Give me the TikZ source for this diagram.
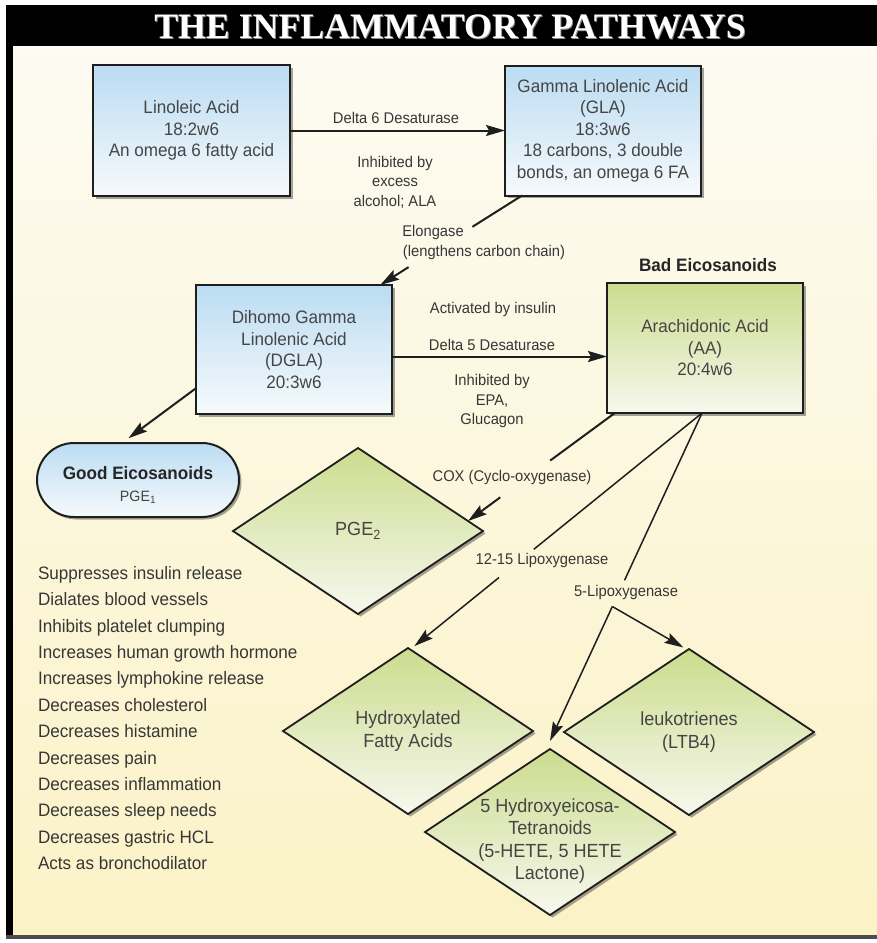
\documentclass[tikz,border=0pt]{standalone}
\usepackage{fontspec}
\setmainfont[FakeStretch=0.95]{Liberation Sans}
\newfontfamily\titlefont{Liberation Serif}
\usetikzlibrary{shapes.geometric,shadows,arrows.meta,calc}
\definecolor{bgtop}{HTML}{FDFBF2}
\definecolor{bgbot}{HTML}{FBF2C6}
\definecolor{bluetop}{HTML}{BBDCF2}
\definecolor{bluebot}{HTML}{F6FAFC}
\definecolor{greentop}{HTML}{CCDC8E}
\definecolor{greenbot}{HTML}{F7F8EE}
\definecolor{txt}{HTML}{363636}
\definecolor{boxtxt}{HTML}{454545}
\definecolor{edge}{HTML}{1E1E1E}
\begin{document}
\begin{tikzpicture}[x=1pt,y=-1pt,
  every node/.style={inner sep=0pt,outer sep=0pt},
  shadowed/.style={drop shadow={shadow xshift=2.5pt,shadow yshift=-2.5pt,opacity=0.35,fill=black}},
  bluebox/.style={rectangle,draw=edge,line width=2pt,top color=bluetop,bottom color=bluebot,shadowed,align=center,text=boxtxt,font=\fontsize{18}{21.5}\selectfont},
  greenbox/.style={rectangle,draw=edge,line width=2pt,top color=greentop,bottom color=greenbot,shadowed,align=center,text=boxtxt,font=\fontsize{18}{21.5}\selectfont},
  gdiam/.style={diamond,aspect=1.5,minimum width=250pt,minimum height=166pt,draw=edge,line width=1.8pt,top color=greentop,bottom color=greenbot,shadowed,align=center,text=boxtxt,font=\fontsize{19}{23.5}\selectfont},
  lbl/.style={text=txt,align=center,font=\fontsize{15.5}{19.5}\selectfont},
  listtxt/.style={text=txt,font=\fontsize{18}{22}\selectfont},
  headtxt/.style={text=black!85,font=\bfseries\fontsize{18}{22}\selectfont},
  tip/.style={-{Stealth[length=19pt,width=11pt,inset=3pt]}},
  arr/.style={draw=edge,line width=2pt,tip},
  thinarr/.style={draw=edge,line width=1.5pt,tip},
  seg/.style={draw=edge,line width=2pt},
  thinseg/.style={draw=edge,line width=1.5pt}
]
\useasboundingbox (0,0) rectangle (877,943);
\fill[white] (0,0) rectangle (877,943);
% frame
\shade[top color=bgtop,bottom color=bgbot] (13,47) rectangle (877,935);
\fill[black] (6,5) rectangle (877,46);
\fill[black] (6,5) rectangle (13,939);
\fill[black!70] (6,935) rectangle (877,939);
\node[text=black!45] (titles) at (451,28) {\titlefont\bfseries\fontsize{35.8}{40}\selectfont THE INFLAMMATORY PATHWAYS};
\node[text=white] (title) at (450,27) {\titlefont\bfseries\fontsize{35.8}{40}\selectfont THE INFLAMMATORY PATHWAYS};

% boxes
\node[bluebox,minimum width=197pt,minimum height=131pt] (lin) at (191.5,130.5)
  {Linoleic Acid\\18:2w6\\An omega 6 fatty acid};
\node[bluebox,minimum width=196pt,minimum height=130pt] (gla) at (603,130.5)
  {Gamma Linolenic Acid\\(GLA)\\18:3w6\\18 carbons, 3 double\\bonds, an omega 6 FA};
\node[bluebox,minimum width=196pt,minimum height=129pt] (dgla) at (294,349.5)
  {Dihomo Gamma\\Linolenic Acid\\(DGLA)\\20:3w6};
\node[greenbox,minimum width=196pt,minimum height=130pt] (aa) at (705,348)
  {Arachidonic Acid\\(AA)\\20:4w6};
\node[rectangle,rounded corners=37pt,draw=edge,line width=2pt,top color=bluetop,bottom color=bluebot,shadowed,
  minimum width=202pt,minimum height=74pt] (good) at (138,480) {};
\node[headtxt] (goodt) at (138,473) {Good Eicosanoids};
\node[text=boxtxt,font=\fontsize{15}{18}\selectfont] (pge1) at (138,497) {PGE\textsubscript{1}};
\node[headtxt] (bad) at (708,265) {Bad Eicosanoids};

% diamonds
\node[gdiam] (pge) at (358,531) {PGE\textsubscript{2}};
\node[gdiam] (hyd) at (408,731) {Hydroxylated\\Fatty Acids};
\node[gdiam] (leuk) at (689,732) {leukotrienes\\(LTB4)};
\node[gdiam] (hete) at (550,832) {};
\node[text=boxtxt,align=center,font=\fontsize{19}{22.5}\selectfont] (hetet) at (550,841)
  {5 Hydroxyeicosa-\\Tetranoids\\(5-HETE, 5 HETE\\Lactone)};

% labels
\node[lbl] (d6) at (396,118) {Delta 6 Desaturase};
\node[lbl] (inh1) at (395,182) {Inhibited by\\excess\\alcohol; ALA};
\node[lbl] (elo1) at (433,232) {Elongase};
\node[lbl] (elo2) at (484,252) {(lengthens carbon chain)};
\node[lbl] (act) at (493,309) {Activated by insulin};
\node[lbl] (d5) at (492,345) {Delta 5 Desaturase};
\node[lbl] (inh2) at (492,401) {Inhibited by\\EPA,\\Glucagon};
\node[lbl] (cox) at (512,477) {COX (Cyclo-oxygenase)};
\node[lbl] (lox12) at (542,560) {12-15 Lipoxygenase};
\node[lbl] (lox5) at (626,592) {5-Lipoxygenase};

% list
\foreach \t [count=\i from 0] in {Suppresses insulin release,Dialates blood vessels,Inhibits platelet clumping,Increases human growth hormone,Increases lymphokine release,Decreases cholesterol,Decreases histamine,Decreases pain,Decreases inflammation,Decreases sleep needs,Decreases gastric HCL,Acts as bronchodilator}
  \node[listtxt,anchor=base west] (li\i) at (38,579.5+26.36*\i) {\t};

% connectors
\draw[arr] (lin.east) -- (lin.east -| gla.west);
\draw[arr] ([yshift=-7pt]dgla.east) -- ([yshift=-7pt]dgla.east -| aa.west);
\draw[arr,shorten >=8pt] ($(dgla.south west)!0.2!(dgla.north west)$) -- ([xshift=-16pt]good.north);

% elongase
\coordinate (ga) at ($(gla.south west)!0.087!(gla.south east)$);
\coordinate (da) at ($(dgla.north west)!0.94!(dgla.north east)$);
\draw[seg] (ga) -- ($(ga)!0.35!(da)$);
\draw[arr] ($(ga)!0.8!(da)$) -- (da);

% COX
\coordinate (ac) at ($(aa.south west)!0.04!(aa.south east)$);
\coordinate (pc) at ($(pge.north)!0.88!(pge.east)$);
\draw[seg] (ac) -- ($(ac)!0.44!(pc)$);
\draw[arr] ($(ac)!0.78!(pc)$) -- (pc);

% lipoxygenases
\coordinate (am) at ($(aa.south west)!0.485!(aa.south east)$);
\coordinate (hy) at ([xshift=4pt]hyd.north);
\coordinate (ht) at ([yshift=8pt]hete.north);
\draw[thinseg] (am) -- ($(am)!0.58!(hy)$);
\draw[thinarr,shorten >=3pt] ($(am)!0.70!(hy)$) -- (hy);
\draw[thinseg] (am) -- ($(am)!0.51!(ht)$);
\coordinate (br) at ($(am)!0.59!(ht)$);
\draw[thinarr] (br) -- (ht);
\draw[thinarr,shorten >=3pt] (br) -- ([xshift=-3pt]leuk.north);
\end{tikzpicture}
\end{document}
